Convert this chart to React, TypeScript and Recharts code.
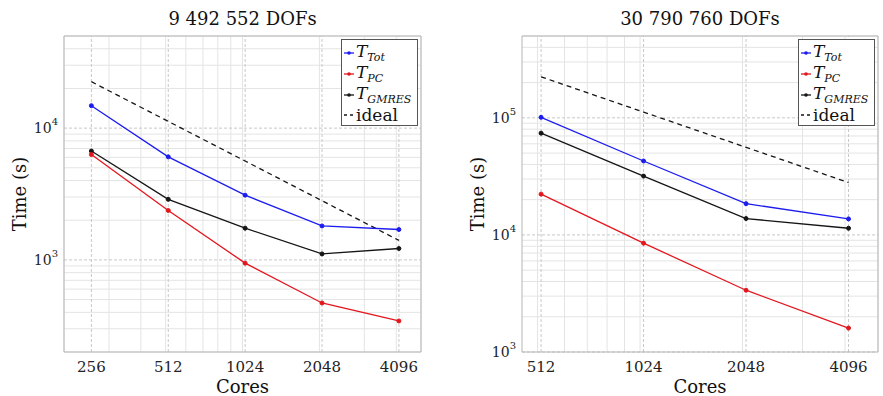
import { LineChart, Line, XAxis, YAxis, ReferenceLine, Label } from "recharts"

// left panel: 9 492 552 DOFs
const cores1 = [256, 512, 1024, 2048, 4096]
const tot1 = [14800, 6050, 3100, 1810, 1700]
const pc1 = [6300, 2370, 945, 471, 344]
const gmres1 = [6700, 2880, 1740, 1110, 1220]
const ideal1 = [22500, 11250, 5625, 2812, 1406]

// right panel: 30 790 760 DOFs
const cores2 = [512, 1024, 2048, 4096]
const tot2 = [101000, 42800, 18500, 13700]
const pc2 = [22300, 8500, 3370, 1600]
const gmres2 = [74000, 31800, 13800, 11400]
const ideal2 = [224000, 112000, 56000, 28000]

const yTicks1 = [1000, 10000]
const yTicks2 = [1000, 10000, 100000]

const FONT = "'DejaVu Serif', serif"
const BLUE = "#1c1cf0"
const RED = "#e3161d"
const BLACK = "#151515"

const minorRange = (lo: number, hi: number) => {
  const out: number[] = []
  for (let d = 1; d <= 1e6; d *= 10) {
    for (let k = 1; k <= 9; k++) {
      const v = k * d
      if (v >= lo && v <= hi) out.push(v)
    }
  }
  return out
}

const YTick = (props: any) => {
  const { x, y, payload } = props
  const e = Math.round(Math.log10(payload.value))
  return (
    <text x={x} y={y + 5} textAnchor="end" fontFamily={FONT} fontSize={14} fill="#222">
      10
      <tspan dy={-8} fontSize={10}>{e}</tspan>
    </text>
  )
}

const XTick = (props: any) => {
  const { x, y, payload } = props
  return (
    <text x={x} y={y + 12} textAnchor="middle" fontFamily={FONT} fontSize={15} fill="#222">
      {payload.value}
    </text>
  )
}

type PanelProps = {
  title: string
  left: number
  width: number
  yAxisWidth: number
  rightMargin: number
  xDomain: [number, number]
  yDomain: [number, number]
  cores: number[]
  tot: number[]
  pc: number[]
  gmres: number[]
  ideal: number[]
  yTicks: number[]
  legendLeft: number
}

const LegendBox = ({ left }: { left: number }) => {
  const row = (color: string, main: string, sub: string, dashed = false) => (
    <div style={{ height: 20.7, display: "flex", alignItems: "center" }}>
      <svg width={12} height={10} style={{ marginRight: 1 }}>
        <line x1={1} y1={5} x2={11} y2={5} stroke={color} strokeWidth={1.3} strokeDasharray={dashed ? "3 3" : undefined} />
        {!dashed && <circle cx={6} cy={5} r={1.8} fill={color} />}
      </svg>
      {sub ? (
        <span style={{ fontStyle: "italic", fontSize: 17 }}>
          {main}
          <sub style={{ fontSize: 11, verticalAlign: "-4px" }}>{sub}</sub>
        </span>
      ) : (
        <span style={{ fontSize: 17 }}>{main}</span>
      )}
    </div>
  )
  return (
    <div
      style={{
        position: "absolute",
        left,
        top: 39,
        width: 77,
        height: 87,
        border: "1px solid #555",
        background: "#fff",
        boxSizing: "border-box",
        fontFamily: FONT,
        color: "#111",
        paddingTop: 3,
        paddingLeft: 1,
        lineHeight: 1,
        whiteSpace: "nowrap",
      }}
    >
      {row(BLUE, "T", "Tot")}
      {row(RED, "T", "PC")}
      {row(BLACK, "T", "GMRES")}
      {row(BLACK, "ideal", "", true)}
    </div>
  )
}

const Panel = (p: PanelProps) => {
  const data = p.cores.map((c, i) => ({
    cores: c,
    tot: p.tot[i],
    pc: p.pc[i],
    gmres: p.gmres[i],
    ideal: p.ideal[i],
  }))
  const xMinor = minorRange(p.xDomain[0], p.xDomain[1]).filter((v) => !p.cores.includes(v))
  const yMinor = minorRange(p.yDomain[0], p.yDomain[1]).filter((v) => !p.yTicks.includes(v))
  const plotLeft = p.yAxisWidth
  const plotRight = p.width - p.rightMargin
  return (
    <div style={{ position: "absolute", left: p.left, top: 0, width: p.width, height: 396 }}>
      <div
        style={{
          position: "absolute",
          top: 8,
          left: plotLeft,
          width: plotRight - plotLeft,
          textAlign: "center",
          fontFamily: FONT,
          fontSize: 18,
          color: "#111",
        }}
      >
        {p.title}
      </div>
      <div
        style={{
          position: "absolute",
          left: p.yAxisWidth - 64 + 20 - 60,
          top: 194 - 10,
          width: 120,
          height: 20,
          textAlign: "center",
          transform: "rotate(-90deg)",
          fontFamily: FONT,
          fontSize: 18,
          color: "#111",
          lineHeight: "20px",
        }}
      >
        Time (s)
      </div>
      <LineChart
        width={p.width}
        height={396}
        data={data}
        margin={{ top: 36, right: p.rightMargin, bottom: 0, left: 0 }}
      >
        <XAxis
          type="number"
          dataKey="cores"
          scale="log"
          domain={p.xDomain}
          allowDataOverflow
          ticks={p.cores}
          tick={<XTick />}
          tickLine={false}
          axisLine={{ stroke: "#b5b5b5" }}
          height={44}
          interval={0}
        >
          <Label value="Cores" position="insideBottom" offset={3} fontFamily={FONT} fontSize={18} fill="#111" />
        </XAxis>
        <YAxis
          type="number"
          scale="log"
          domain={p.yDomain}
          allowDataOverflow
          ticks={p.yTicks}
          tick={<YTick />}
          tickLine={false}
          tickMargin={0}
          axisLine={{ stroke: "#b5b5b5" }}
          width={p.yAxisWidth}
          interval={0}
        />
        {xMinor.map((v) => (
          <ReferenceLine key={"xm" + v} x={v} stroke="#e4e4e4" strokeWidth={1} />
        ))}
        {yMinor.map((v) => (
          <ReferenceLine key={"ym" + v} y={v} stroke="#e4e4e4" strokeWidth={1} />
        ))}
        {p.cores.map((v) => (
          <ReferenceLine key={"xM" + v} x={v} stroke="#c8c8c8" strokeDasharray="3 2" />
        ))}
        {p.yTicks.map((v) => (
          <ReferenceLine key={"yM" + v} y={v} stroke="#c8c8c8" strokeDasharray="3 2" />
        ))}
        <ReferenceLine x={p.xDomain[1]} stroke="#b5b5b5" />
        <ReferenceLine y={p.yDomain[1]} stroke="#b5b5b5" />
        <Line
          dataKey="ideal"
          stroke={BLACK}
          strokeWidth={1.3}
          strokeDasharray="5 4"
          dot={false}
          isAnimationActive={false}
        />
        <Line
          dataKey="gmres"
          stroke={BLACK}
          strokeWidth={1.3}
          dot={{ r: 2, fill: BLACK, stroke: BLACK, strokeWidth: 1 }}
          isAnimationActive={false}
        />
        <Line
          dataKey="pc"
          stroke={RED}
          strokeWidth={1.3}
          dot={{ r: 2, fill: RED, stroke: RED, strokeWidth: 1 }}
          isAnimationActive={false}
        />
        <Line
          dataKey="tot"
          stroke={BLUE}
          strokeWidth={1.3}
          dot={{ r: 2, fill: BLUE, stroke: BLUE, strokeWidth: 1 }}
          isAnimationActive={false}
        />
      </LineChart>
      <LegendBox left={p.legendLeft} />
    </div>
  )
}

export default function App() {
  return (
    <div style={{ position: "absolute", left: 0, top: 0, width: 883, height: 396, background: "#fff", overflow: "hidden" }}>
      <Panel
        title="9 492 552  DOFs"
        left={0}
        width={440}
        yAxisWidth={64}
        rightMargin={19}
        xDomain={[200, 5000]}
        yDomain={[200, 50000]}
        cores={cores1}
        tot={tot1}
        pc={pc1}
        gmres={gmres1}
        ideal={ideal1}
        yTicks={yTicks1}
        legendLeft={341}
      />
      <Panel
        title="30 790 760  DOFs"
        left={440}
        width={443}
        yAxisWidth={82}
        rightMargin={5}
        xDomain={[450, 5000]}
        yDomain={[1000, 500000]}
        cores={cores2}
        tot={tot2}
        pc={pc2}
        gmres={gmres2}
        ideal={ideal2}
        yTicks={yTicks2}
        legendLeft={358}
      />
    </div>
  )
}
